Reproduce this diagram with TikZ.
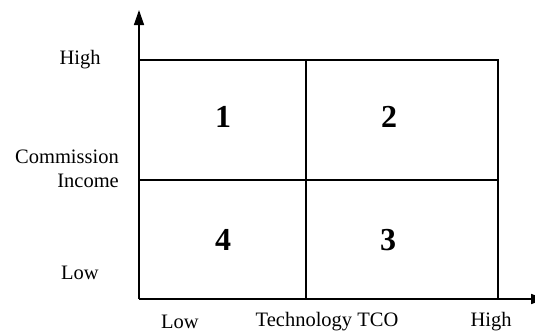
\documentclass[tikz,border=0pt]{standalone}
\usepackage{fontspec}
\setmainfont{Liberation Serif}
\usetikzlibrary{arrows.meta}
\begin{document}
\begin{tikzpicture}[x=1pt,y=-1pt,
  gridline/.style={line width=1.6pt,black},
  axisline/.style={line width=1.4pt,black,-{Triangle[length=15pt,width=10pt]}},
  lbl/.style={font=\fontsize{20.5}{24}\selectfont,inner sep=0pt},
  quad/.style={font=\fontsize{32}{34}\selectfont\bfseries,inner sep=0pt}]
\useasboundingbox (0,0) rectangle (535,332);
\clip (0,0) rectangle (535,332);
% axes
\coordinate (o) at (139,299);
\coordinate (ytip) at (139,10);
\coordinate (xtip) at (546,299);
\draw[axisline] (o) -- (ytip);
\draw[axisline] (o) -- (xtip);
% quadrant grid
\coordinate (tl) at (139,60);
\coordinate (tr) at (498,60);
\coordinate (ml) at (139,180);
\coordinate (mr) at (498,180);
\coordinate (tm) at (306,60);
\coordinate (bm) at (306,299);
\coordinate (br) at (498,299);
\draw[gridline] (tl) -- (tr) -- (br);
\draw[gridline] (ml) -- (mr);
\draw[gridline] (tm) -- (bm);
% quadrant numbers
\node[quad] (q1) at (223,117) {1};
\node[quad] (q2) at (389,117) {2};
\node[quad] (q4) at (223,240) {4};
\node[quad] (q3) at (388,240) {3};
% vertical axis labels
\node[lbl] (yhigh) at (80,60) {High};
\node[lbl,anchor=east,align=right] (ytitle) at (119,169) {Commission\\Income};
\node[lbl] (ylow) at (80,273) {Low};
% horizontal axis labels
\node[lbl] (xlow) at (180,322) {Low};
\node[lbl] (xtitle) at (327,322) {Technology TCO};
\node[lbl] (xhigh) at (491,322) {High};
\end{tikzpicture}
\end{document}
